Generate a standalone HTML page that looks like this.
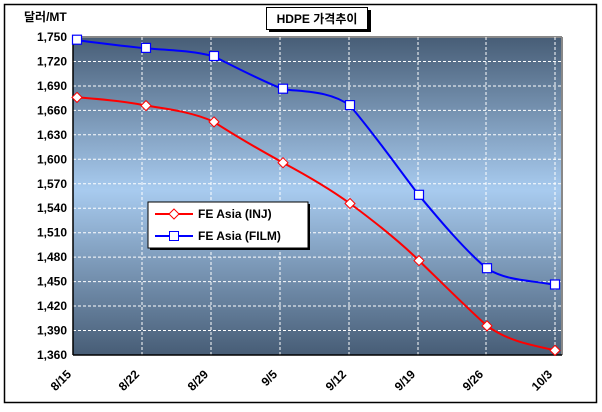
<!DOCTYPE html>
<html><head><meta charset="utf-8"><style>
body{margin:0;background:#fff;width:602px;height:407px;overflow:hidden}
svg text{font-family:"Liberation Sans","Noto Sans CJK KR",sans-serif;font-weight:bold;font-size:12px}
</style></head><body>
<svg width="602" height="407" xmlns="http://www.w3.org/2000/svg">
<defs>
<linearGradient id="g" x1="0" y1="0" x2="0" y2="1">
<stop offset="0" stop-color="#475d76"/>
<stop offset="0.48" stop-color="#a8cbef"/>
<stop offset="1" stop-color="#475d76"/>
</linearGradient>
</defs>
<rect x="4.5" y="4.5" width="592" height="398" fill="#fff" stroke="#000" stroke-width="1.5"/>
<rect x="73" y="37" width="489" height="318" fill="url(#g)"/>
<line x1="562" y1="37" x2="562" y2="355" stroke="#888" stroke-width="2"/>
<line x1="73" y1="37" x2="562" y2="37" stroke="#888" stroke-width="2"/>
<g stroke="#fff" stroke-dasharray="3,2" stroke-width="1">
<line x1="73" x2="562" y1="61.5" y2="61.5"/><line x1="73" x2="562" y1="86" y2="86"/><line x1="73" x2="562" y1="110.4" y2="110.4"/><line x1="73" x2="562" y1="134.8" y2="134.8"/><line x1="73" x2="562" y1="159.3" y2="159.3"/><line x1="73" x2="562" y1="183.8" y2="183.8"/><line x1="73" x2="562" y1="208.2" y2="208.2"/><line x1="73" x2="562" y1="232.7" y2="232.7"/><line x1="73" x2="562" y1="257.1" y2="257.1"/><line x1="73" x2="562" y1="281.6" y2="281.6"/><line x1="73" x2="562" y1="306" y2="306"/><line x1="73" x2="562" y1="330.5" y2="330.5"/>
<line y1="37" y2="355" x1="142" x2="142"/><line y1="37" y2="355" x1="211" x2="211"/><line y1="37" y2="355" x1="280" x2="280"/><line y1="37" y2="355" x1="349" x2="349"/><line y1="37" y2="355" x1="418" x2="418"/><line y1="37" y2="355" x1="486" x2="486"/><line y1="37" y2="355" x1="555" x2="555"/>
</g>
<line x1="73" y1="37" x2="73" y2="355" stroke="#000" stroke-width="1.5"/>
<line x1="73" y1="355" x2="562" y2="355" stroke="#000" stroke-width="1.5"/>
<g text-anchor="end">
<text x="67" y="41">1,750</text><text x="67" y="65.5">1,720</text><text x="67" y="90">1,690</text><text x="67" y="114.4">1,660</text><text x="67" y="138.8">1,630</text><text x="67" y="163.3">1,600</text><text x="67" y="187.8">1,570</text><text x="67" y="212.2">1,540</text><text x="67" y="236.7">1,510</text><text x="67" y="261.1">1,480</text><text x="67" y="285.6">1,450</text><text x="67" y="310">1,420</text><text x="67" y="334.5">1,390</text><text x="67" y="359">1,360</text>
</g>
<text x="24" y="21">달러/MT</text>
<g text-anchor="end">
<text transform="translate(72,375) rotate(-45)">8/15</text>
<text transform="translate(140,375) rotate(-45)">8/22</text>
<text transform="translate(209,375) rotate(-45)">8/29</text>
<text transform="translate(278,375) rotate(-45)">9/5</text>
<text transform="translate(347,375) rotate(-45)">9/12</text>
<text transform="translate(416,375) rotate(-45)">9/19</text>
<text transform="translate(484,375) rotate(-45)">9/26</text>
<text transform="translate(553,375) rotate(-45)">10/3</text>
</g>
<path d="M77,97.4 C100,99 123,101 146,105.6 C170,109 195,113 214,121.9 C237,137 260,150 283,162.7 C306,175 330,189 350,203.5 C375,222 398,240 419,260.6 C442,283 465,306 487,325.9 C510,342 532,345 555,350.4" fill="none" stroke="#f00" stroke-width="2"/>
<path d="M77,40.2 C100,43 123,46 146,48.4 C170,50 195,51 214,56.5 C237,68 260,80 283,89.2 C306,92 330,91 350,105.6 C375,135 398,168 419,195.3 C442,223 465,250 487,268.7 C510,282 532,280 555,285" fill="none" stroke="#00f" stroke-width="2"/>
<g fill="#fff" stroke="#f00" stroke-width="1">
<path d="M77,92.4l5,5l-5,5l-5,-5z"/><path d="M146,100.6l5,5l-5,5l-5,-5z"/><path d="M214,116.9l5,5l-5,5l-5,-5z"/><path d="M283,157.7l5,5l-5,5l-5,-5z"/><path d="M350,198.5l5,5l-5,5l-5,-5z"/><path d="M419,255.6l5,5l-5,5l-5,-5z"/><path d="M487,320.9l5,5l-5,5l-5,-5z"/><path d="M555,345.4l5,5l-5,5l-5,-5z"/>
</g>
<g fill="#fff" stroke="#00f" stroke-width="1.2">
<rect x="72.5" y="35.2" width="9" height="9"/><rect x="141.5" y="43.4" width="9" height="9"/><rect x="209.5" y="51.5" width="9" height="9"/><rect x="278.5" y="84.2" width="9" height="9"/><rect x="345.5" y="100.6" width="9" height="9"/><rect x="414.5" y="190.3" width="9" height="9"/><rect x="482.5" y="263.7" width="9" height="9"/><rect x="550.5" y="280" width="9" height="9"/>
</g>
<rect x="150" y="204" width="160" height="46" fill="#000"/>
<rect x="148" y="202" width="160" height="46" fill="#fff" stroke="#000"/>
<line x1="155" y1="214" x2="193" y2="214" stroke="#f00" stroke-width="2"/>
<path d="M174,209l5,5l-5,5l-5,-5z" fill="#fff" stroke="#f00"/>
<text x="198" y="218" font-size="12">FE Asia (INJ)</text>
<line x1="155" y1="236" x2="193" y2="236" stroke="#00f" stroke-width="2"/>
<rect x="169.5" y="231.5" width="9" height="9" fill="#fff" stroke="#00f"/>
<text x="198" y="240" font-size="12">FE Asia (FILM)</text>
<rect x="269" y="10" width="102" height="22" fill="#000"/>
<rect x="266.5" y="7.5" width="101" height="22" fill="#fff" stroke="#000"/>
<text x="317" y="23" text-anchor="middle">HDPE 가격추이</text>
</svg>
</body></html>
